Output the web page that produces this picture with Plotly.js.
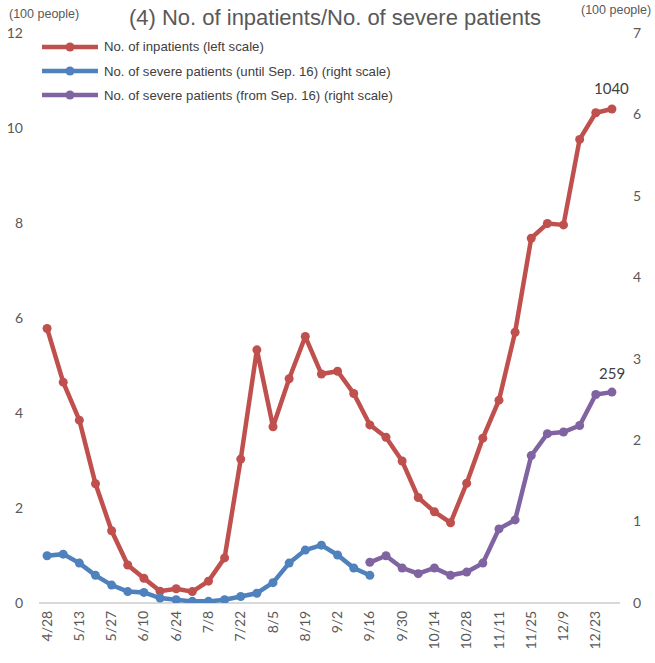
<!DOCTYPE html>
<html>
<head>
<meta charset="utf-8">
<script src="https://cdn.plot.ly/plotly-3.0.1.min.js"></script>
<style>html,body{margin:0;padding:0;background:#fff;}#chart{width:655px;height:663px;}</style>
</head>
<body>
<div id="chart"></div>
<script>
const dates = ["4/28","5/6","5/13","5/20","5/27","6/3","6/10","6/17","6/24","7/1","7/8","7/15","7/22","7/29","8/5","8/12","8/19","8/26","9/2","9/9","9/16","9/23","9/30","10/7","10/14","10/21","10/28","11/4","11/11","11/18","11/25","12/2","12/9","12/16","12/23","12/30"];
const inpatients = [5.78,4.65,3.85,2.51,1.52,0.80,0.52,0.25,0.30,0.24,0.46,0.95,3.03,5.33,3.71,4.72,5.61,4.82,4.88,4.41,3.75,3.49,2.99,2.22,1.92,1.69,2.52,3.47,4.27,5.70,7.68,7.99,7.96,9.76,10.32,10.40];
const severeUntil = [0.58,0.60,0.49,0.34,0.22,0.14,0.13,0.06,0.04,0.02,0.02,0.04,0.08,0.12,0.25,0.49,0.65,0.71,0.59,0.43,0.34];
const severeFrom = [0.50,0.58,0.43,0.36,0.43,0.34,0.38,0.49,0.91,1.02,1.81,2.08,2.10,2.18,2.56,2.59];
const seriesNames = ["No. of inpatients (left scale)", "No. of severe patients (until Sep. 16) (right scale)", "No. of severe patients (from Sep. 16) (right scale)"];
const tickLabels = dates.filter((d,i)=>i%2===0);

const nDates = dates.length;
const blueY = dates.map((d,i)=> i < severeUntil.length ? severeUntil[i] : null);
const purpleStart = nDates - severeFrom.length;
const purpleY = dates.map((d,i)=> i >= purpleStart ? severeFrom[i-purpleStart] : null);

const colors = ["#C0504D", "#4F81BD", "#8064A2"];
const LW = 4.5, MS = 9;
const traces = [
  {x: dates, y: inpatients, name: seriesNames[0], type: "scatter", mode: "lines+markers",
   line: {color: colors[0], width: LW}, marker: {color: colors[0], size: MS}},
  {x: dates, y: blueY, name: seriesNames[1], type: "scatter", mode: "lines+markers", yaxis: "y2",
   line: {color: colors[1], width: LW}, marker: {color: colors[1], size: MS}},
  {x: dates, y: purpleY, name: seriesNames[2], type: "scatter", mode: "lines+markers", yaxis: "y2",
   line: {color: colors[2], width: LW}, marker: {color: colors[2], size: MS}}
];

const textFont = "Liberation Sans, Arial, sans-serif";
const tickFont = {family: "Lato, sans-serif", size: 14, color: "#595959"};

// plot area geometry (for the manual legend placed in paper coordinates)
const W = 655, H = 663, M = {l: 39, r: 35, t: 33, b: 60};
const pw = W - M.l - M.r, ph = H - M.t - M.b;
const px = (xp)=> (xp - M.l) / pw;
const py = (yp)=> (H - M.b - yp) / ph;

const shapes = [];
const annotations = [];
const legendRows = [47, 71, 95];
seriesNames.forEach((name, i)=>{
  const yy = py(legendRows[i]);
  shapes.push({type: "line", xref: "paper", yref: "paper", x0: px(42), x1: px(98), y0: yy, y1: yy,
               line: {color: colors[i], width: LW}});
  shapes.push({type: "circle", xref: "paper", yref: "paper", x0: px(70-4.5), x1: px(70+4.5), y0: py(legendRows[i]+4.5), y1: py(legendRows[i]-4.5),
               fillcolor: colors[i], line: {color: colors[i], width: 0}});
  annotations.push({text: name, xref: "paper", yref: "paper", x: px(102), y: yy, xanchor: "left", yanchor: "middle",
                    showarrow: false, font: {family: textFont, size: 13.2, color: "#404040"}});
});

// data labels on the last points
const lastRed = inpatients[inpatients.length-1];
const lastPurple = severeFrom[severeFrom.length-1];
annotations.push({text: String(Math.round(lastRed*100)), x: dates[nDates-1], y: lastRed, xref: "x", yref: "y",
                  showarrow: false, yanchor: "bottom", yshift: 10, font: {family: "Lato, sans-serif", size: 15, color: "#404040"}});
annotations.push({text: String(Math.round(lastPurple*100)), x: dates[nDates-1], y: lastPurple, xref: "x", yref: "y2",
                  showarrow: false, yanchor: "bottom", yshift: 8, font: {family: "Lato, sans-serif", size: 15, color: "#404040"}});

annotations.push({text: "(100 people)", xref: "paper", yref: "paper", x: px(7), y: py(14), xanchor: "left", yanchor: "middle", showarrow: false,
     font: {family: textFont, size: 12.5, color: "#595959"}});
annotations.push({text: "(100 people)", xref: "paper", yref: "paper", x: px(653), y: py(10), xanchor: "right", yanchor: "middle", showarrow: false,
     font: {family: textFont, size: 12.5, color: "#595959"}});

const layout = {
  width: W, height: H,
  margin: M,
  paper_bgcolor: "#fff", plot_bgcolor: "#fff",
  title: {text: "(4) No. of inpatients/No. of severe patients", x: 335/W, xanchor: "center", y: 1 - 17/H, yanchor: "middle",
          font: {family: textFont, size: 22, color: "#595959"}},
  showlegend: false,
  xaxis: {type: "category", range: [-0.5, nDates-0.5], tickmode: "array", tickvals: tickLabels, ticktext: tickLabels,
          tickangle: -90, tickfont: tickFont, showgrid: false, zeroline: false, showline: false, ticks: "", ticklabelstandoff: 4},
  yaxis: {range: [0, 12], dtick: 2, tick0: 0, showgrid: false, zeroline: true, zerolinecolor: "#D9D9D9", zerolinewidth: 2,
          tickfont: tickFont, ticks: "", showline: false, ticklabelstandoff: 15},
  yaxis2: {range: [0, 7], dtick: 1, tick0: 0, overlaying: "y", side: "right", showgrid: false, zeroline: false,
          tickfont: tickFont, ticks: "", showline: false, ticklabelstandoff: 12},
  shapes: shapes,
  annotations: annotations
};
Plotly.newPlot("chart", traces, layout, {displayModeBar: false, staticPlot: true});
</script>
</body>
</html>
